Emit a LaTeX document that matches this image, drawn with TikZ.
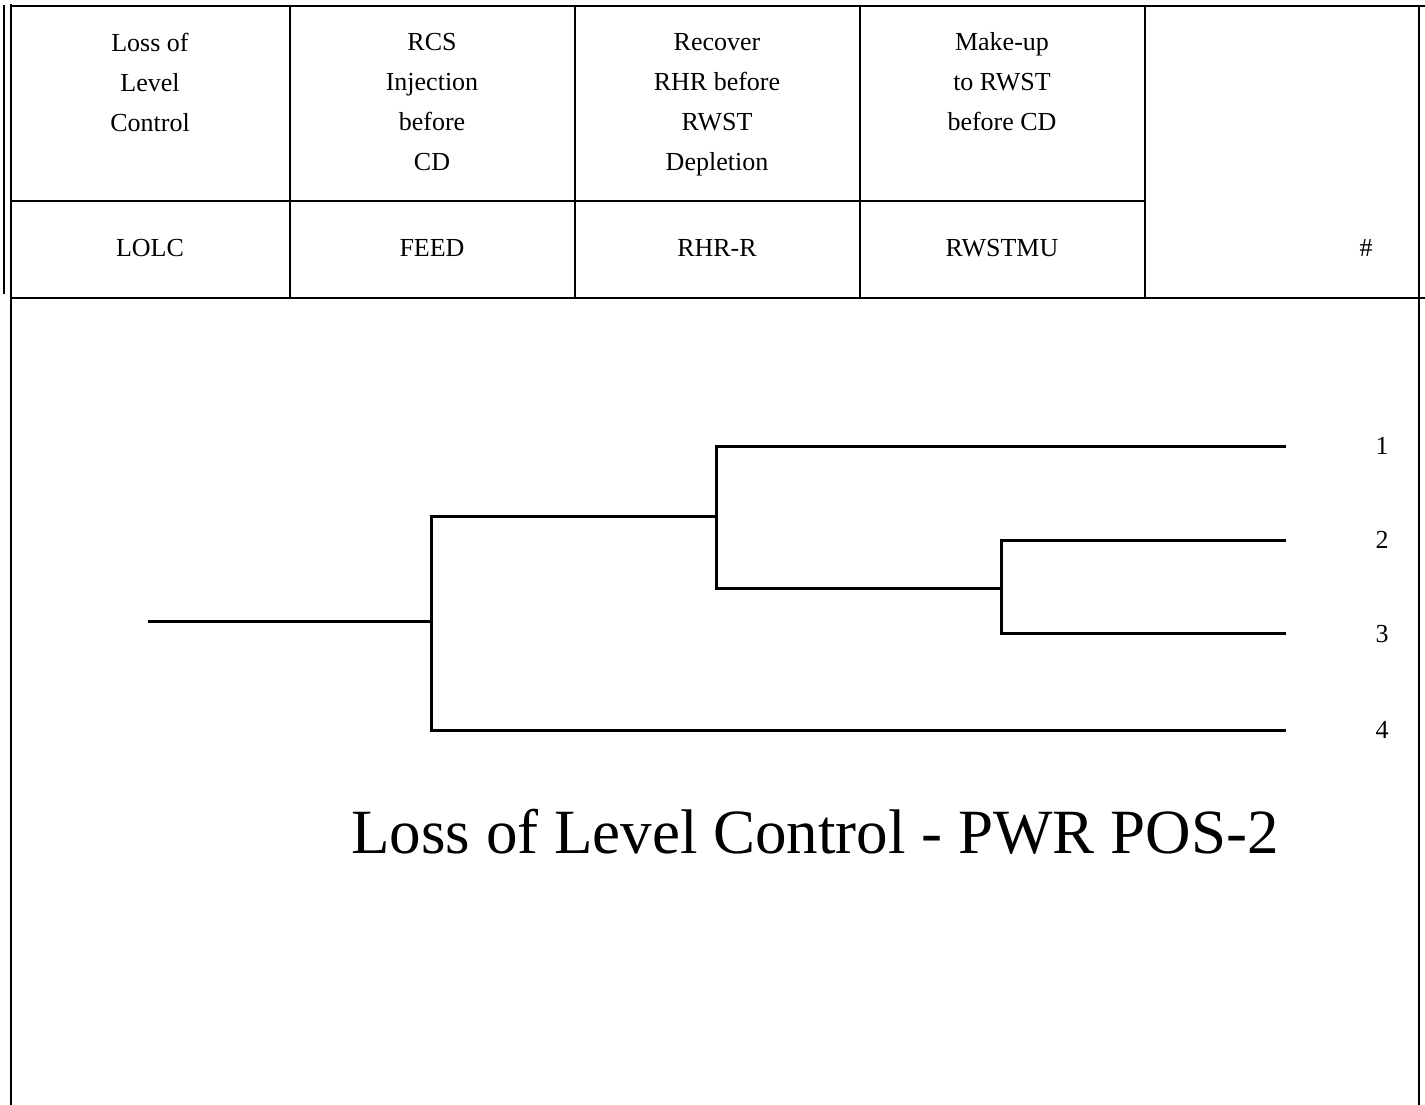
\documentclass[tikz,border=0pt]{standalone}
\usepackage{fontspec}
\setmainfont{Liberation Serif}
\begin{document}
\begin{tikzpicture}[x=1pt,y=-1pt,
  rule/.style={line width=1.6pt, line cap=rect},
  heavyrule/.style={line width=2.2pt, line cap=rect},
  branch/.style={line width=3pt, line join=miter},
  hdr/.style={align=center, inner sep=0pt, font=\fontsize{26}{40}\selectfont},
  endlabel/.style={inner sep=0pt, font=\fontsize{26}{30}\selectfont},
  titlefont/.style={inner sep=0pt, font=\fontsize{63}{70}\selectfont}]
\useasboundingbox (0,0) rectangle (1425,1105);
% frame
\draw[line width=1.4pt] (4,5) -- (4,294);
\draw[heavyrule] (11,5) -- (11,1105);
\draw[heavyrule] (11,6) -- (1425,6);
\draw[rule] (1419,6) -- (1419,1105);
\draw[heavyrule] (11,298) -- (1425,298);
\draw[rule] (11,201) -- (1145,201);
\draw[rule] (290,6) -- (290,298);
\draw[rule] (575,6) -- (575,298);
\draw[rule] (860,6) -- (860,298);
\draw[heavyrule] (1145,6) -- (1145,298);
% header texts
\node[hdr] (h1) at (150,82) {Loss of\\Level\\Control};
\node[hdr] (h2) at (432,102) {RCS\\Injection\\before\\CD};
\node[hdr] (h3) at (717,105) {Recover\\RHR before\\RWST\\Depletion};
\node[hdr] (h4) at (1002,82) {Make-up\\to RWST\\before CD};
\node[hdr] (c1) at (150,248) {LOLC};
\node[hdr] (c2) at (432,248) {FEED};
\node[hdr] (c3) at (717,248) {RHR-R};
\node[hdr] (c4) at (1002,248) {RWSTMU};
\node[hdr] (c5) at (1366,248) {\#};
% tree coordinates
\coordinate (s) at (148,621);
\coordinate (b1) at (431,621);
\coordinate (b1u) at (431,516);
\coordinate (b1d) at (431,730);
\coordinate (b2) at (716,516);
\coordinate (b2u) at (716,446);
\coordinate (b2d) at (716,588);
\coordinate (b3) at (1001,588);
\coordinate (b3u) at (1001,540);
\coordinate (b3d) at (1001,633);
\coordinate (e1) at (1286,446);
\coordinate (e2) at (1286,540);
\coordinate (e3) at (1286,633);
\coordinate (e4) at (1286,730);
% tree
\draw[branch] (s) -- (b1);
\draw[branch] (b2) -- (b1u) -- (b1d) -- (e4);
\draw[branch] (e1) -- (b2u) -- (b2d) -- (b3);
\draw[branch] (e2) -- (b3u) -- (b3d) -- (e3);
% end labels
\node[endlabel] (n1) at (1382,446) {1};
\node[endlabel] (n2) at (1382,540) {2};
\node[endlabel] (n3) at (1382,634) {3};
\node[endlabel] (n4) at (1382,730) {4};
% title
\node[titlefont] (title) at (815,832) {Loss of Level Control - PWR POS-2};
\end{tikzpicture}
\end{document}
